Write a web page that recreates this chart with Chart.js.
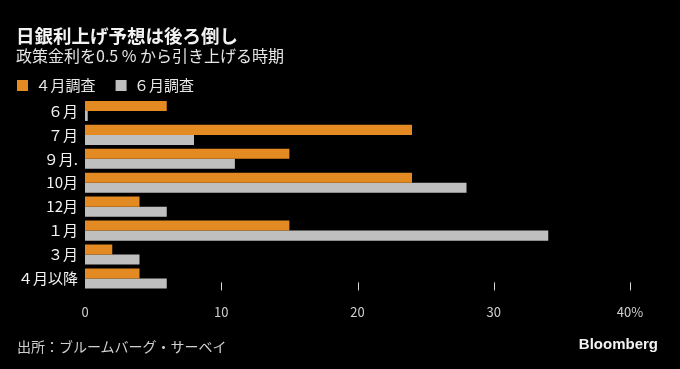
<!DOCTYPE html>
<html>
<head>
<meta charset="utf-8">
<script src="https://cdn.jsdelivr.net/npm/chart.js@4"></script>
<style>
  html, body { margin: 0; padding: 0; background: #000; }
  body { width: 680px; height: 369px; position: relative; overflow: hidden; font-family: "Noto Sans CJK JP", "Noto Sans", sans-serif; }
  #wrap { position: absolute; left: 0; top: 0; width: 680px; height: 369px; }
  .txt { position: absolute; color: #f2f2f2; white-space: nowrap; }
  #title { left: 16px; top: 22px; font-size: 18.5px; font-weight: bold; }
  #sub { left: 16px; top: 43px; font-size: 16px; color: #e6e6e6; }
  #src { left: 17px; top: 336px; font-size: 14px; color: #d0d0d0; }
  #brand { right: 22px; top: 335px; font-size: 15px; font-weight: bold; font-family: "Liberation Sans", Arial, sans-serif; }
</style>
</head>
<body>
<div id="wrap"><canvas id="chart" width="680" height="369"></canvas></div>
<div class="txt" id="title">日銀利上げ予想は後ろ倒し</div>
<div class="txt" id="sub">政策金利を0.5 % から引き上げる時期</div>
<div class="txt" id="src">出所：ブルームバーグ・サーベイ</div>
<div class="txt" id="brand">Bloomberg</div>
<script>
// Data
const categories = ['６月', '７月', '９月.', '10月', '12月', '１月', '３月', '４月以降'];
const aprilSurvey = [6, 24, 15, 24, 4, 15, 2, 4];
const juneSurvey = [0.2, 8, 11, 28, 6, 34, 4, 6];
const seriesNames = ['４月調査', '６月調査'];
const xTicks = [0, 10, 20, 30, 40];

const FONT = '"Noto Sans CJK JP", "Noto Sans", sans-serif';

const tweaks = {
    id: 'tweaks',
    beforeInit(chart) {
        // tighten the legend box a little
        const fit = chart.legend.fit;
        chart.legend.fit = function () {
            fit.call(this);
            this.height -= 4;
        };
    },
    // short tick marks above the x labels (no grid lines)
    afterDraw(chart) {
        const x = chart.scales.x;
        const bottom = chart.chartArea.bottom;
        const c = chart.ctx;
        c.save();
        c.strokeStyle = '#d8d8d8';
        c.lineWidth = 1;
        xTicks.forEach(v => {
            if (v === 0) return;
            const px = Math.round(x.getPixelForValue(v)) + 0.5;
            c.beginPath();
            c.moveTo(px, bottom - 8);
            c.lineTo(px, bottom);
            c.stroke();
        });
        c.restore();
    }
};

const ctx = document.getElementById('chart').getContext('2d');
const chart = new Chart(ctx, {
    type: 'bar',
    data: {
        labels: categories,
        datasets: [
            { label: seriesNames[0], data: aprilSurvey, backgroundColor: '#e38b22' },
            { label: seriesNames[1], data: juneSurvey, backgroundColor: '#bfbfbf' }
        ]
    },
    options: {
        indexAxis: 'y',
        responsive: false,
        animation: false,
        categoryPercentage: 0.84,
        barPercentage: 1.0,
        layout: { padding: { top: 68, left: 7, right: 50, bottom: 35 } },
        scales: {
            x: {
                min: 0,
                max: 40,
                afterBuildTicks(scale) { scale.ticks = xTicks.map(v => ({ value: v })); },
                grid: { display: false, drawTicks: false },
                border: { display: false },
                ticks: {
                    color: '#d0d0d0',
                    padding: 14,
                    maxRotation: 0,
                    font: { family: FONT, size: 13 },
                    callback: v => v === 40 ? '40%' : String(v)
                }
            },
            y: {
                grid: { display: false, drawTicks: false },
                border: { display: false },
                afterFit(scale) { scale.width = 78; },
                ticks: {
                    color: '#f4f4f4',
                    padding: 7,
                    font: { family: FONT, size: 15 }
                }
            }
        },
        plugins: {
            legend: {
                position: 'top',
                align: 'start',
                labels: {
                    color: '#e8e8e8',
                    boxWidth: 11,
                    boxHeight: 11,
                    padding: 10,
                    font: { family: FONT, size: 15 },
                    generateLabels(chart) {
                        const items = Chart.defaults.plugins.legend.labels.generateLabels(chart);
                        items[0].text += '   ';
                        return items;
                    }
                }
            },
            tooltip: { enabled: false }
        }
    },
    plugins: [tweaks]
});
</script>
</body>
</html>
